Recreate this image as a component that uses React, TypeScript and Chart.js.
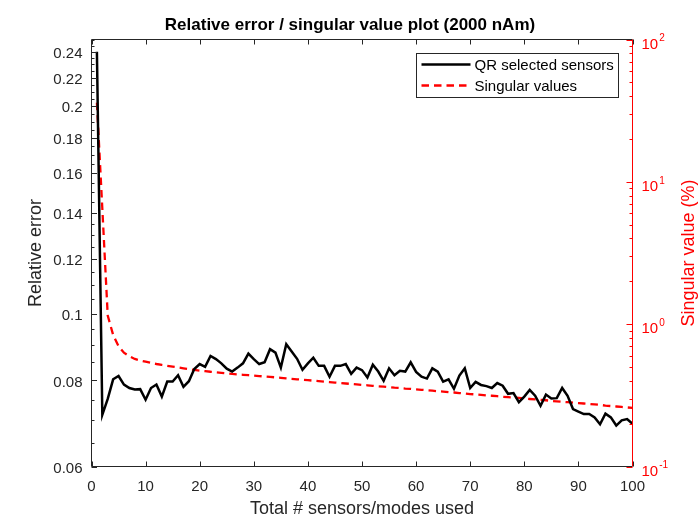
import { useEffect, useRef } from 'react';
import { Chart, registerables, Plugin } from 'chart.js';

Chart.register(...registerables);

// number of sensors / modes on the x axis
const sensorCounts = Array.from({ length: 100 }, (_, i) => i + 1);

// QR selected sensors, relative error (left log axis)
const relativeError = [
  0.24, 0.0713, 0.0752, 0.0803, 0.0812, 0.0789, 0.078, 0.0776, 0.0777, 0.075,
  0.078, 0.0789, 0.0758, 0.0797, 0.0797, 0.0814, 0.0783, 0.0798, 0.0831, 0.0845,
  0.0837, 0.0868, 0.0859, 0.0847, 0.0832, 0.0824, 0.0835, 0.0847, 0.0875, 0.0859,
  0.0845, 0.085, 0.0888, 0.0878, 0.0835, 0.0903, 0.0881, 0.086, 0.0829, 0.0847,
  0.0863, 0.084, 0.084, 0.081, 0.084, 0.084, 0.0845, 0.0818, 0.0835, 0.0828,
  0.0808, 0.0843, 0.0824, 0.0799, 0.0833, 0.0814, 0.0826, 0.0824, 0.085, 0.0823,
  0.081, 0.0805, 0.0833, 0.0824, 0.0797, 0.0803, 0.0778, 0.0813, 0.0833, 0.078,
  0.0796, 0.0788, 0.0785, 0.078, 0.0793, 0.0786, 0.0765, 0.0767, 0.0744, 0.0758,
  0.0775, 0.076, 0.0735, 0.0763, 0.0753, 0.0754, 0.078, 0.076, 0.0727, 0.0721,
  0.0715, 0.0715, 0.0707, 0.0691, 0.0716, 0.0707, 0.0688, 0.07, 0.0703, 0.0692,
];

// singular values in % (right log axis)
const singularValues = [
  36, 6.5, 1.15, 0.84, 0.7, 0.63, 0.595, 0.57, 0.555, 0.545,
  0.535, 0.525, 0.517, 0.51, 0.503, 0.497, 0.49, 0.483, 0.477, 0.472,
  0.468, 0.463, 0.459, 0.455, 0.451, 0.447, 0.444, 0.441, 0.438, 0.435,
  0.432, 0.429, 0.426, 0.423, 0.42, 0.416, 0.413, 0.41, 0.407, 0.404,
  0.401, 0.398, 0.395, 0.392, 0.389, 0.386, 0.383, 0.38, 0.377, 0.374,
  0.372, 0.369, 0.366, 0.364, 0.361, 0.358, 0.356, 0.353, 0.351, 0.348,
  0.346, 0.343, 0.341, 0.338, 0.336, 0.333, 0.331, 0.328, 0.326, 0.323,
  0.321, 0.319, 0.316, 0.314, 0.312, 0.309, 0.307, 0.305, 0.303, 0.3,
  0.298, 0.296, 0.294, 0.292, 0.289, 0.287, 0.285, 0.283, 0.281, 0.279,
  0.277, 0.275, 0.273, 0.271, 0.268, 0.266, 0.264, 0.262, 0.26, 0.258,
];

const xTicks = [0, 10, 20, 30, 40, 50, 60, 70, 80, 90, 100];
const errorTicks = [0.06, 0.08, 0.1, 0.12, 0.14, 0.16, 0.18, 0.2, 0.22, 0.24];
const singularExponents = [-1, 0, 1, 2];
const rightTitle = 'Singular value (%)';

const FONT = '"Liberation Sans", Arial, Helvetica, sans-serif';
const AXIS = '#262626';
const RED = '#ff0000';

// MATLAB-like box with inward ticks, superscript labels and boxed legend
const matlabAxes: Plugin<'line'> = {
  id: 'matlabAxes',
  afterDraw(chart) {
    const { ctx, chartArea: a, scales } = chart;
    const xs = scales.x;
    const yl = scales.y;
    const yr = scales.y1;
    ctx.save();
    ctx.lineWidth = 1;

    // black part of the box and its ticks
    ctx.strokeStyle = AXIS;
    ctx.beginPath();
    ctx.moveTo(a.right, a.top);
    ctx.lineTo(a.left, a.top);
    ctx.lineTo(a.left, a.bottom);
    ctx.lineTo(a.right, a.bottom);
    for (const v of xTicks) {
      const px = Math.round(xs.getPixelForValue(v)) + 0.5;
      ctx.moveTo(px, a.bottom);
      ctx.lineTo(px, a.bottom - 5);
      ctx.moveTo(px, a.top);
      ctx.lineTo(px, a.top + 5);
    }
    for (let i = 12; i <= 50; i++) {
      const py = Math.round(yl.getPixelForValue(i * 0.005)) + 0.5;
      const len = i % 4 === 0 ? 5.5 : 3;
      ctx.moveTo(a.left, py);
      ctx.lineTo(a.left + len, py);
    }
    ctx.stroke();

    // red right axis
    ctx.strokeStyle = RED;
    ctx.beginPath();
    ctx.moveTo(a.right, a.top);
    ctx.lineTo(a.right, a.bottom);
    for (let d = -1; d <= 2; d++) {
      for (let m = 1; m <= (d === 2 ? 1 : 9); m++) {
        const py = Math.round(yr.getPixelForValue(m * Math.pow(10, d))) + 0.5;
        const len = m === 1 ? 6 : 3;
        ctx.moveTo(a.right, py);
        ctx.lineTo(a.right - len, py);
      }
    }
    ctx.stroke();

    ctx.fillStyle = RED;
    ctx.textAlign = 'left';
    ctx.textBaseline = 'middle';
    for (const e of singularExponents) {
      const py = yr.getPixelForValue(Math.pow(10, e));
      ctx.font = `15px ${FONT}`;
      const w = ctx.measureText('10').width;
      ctx.fillText('10', a.right + 9, py + 5);
      ctx.font = `10px ${FONT}`;
      ctx.fillText(String(e), a.right + 9 + w + 1, py - 1);
    }

    // right axis title, reading upwards like MATLAB
    ctx.save();
    ctx.translate(689, (a.top + a.bottom) / 2);
    ctx.rotate(-Math.PI / 2);
    ctx.textAlign = 'center';
    ctx.font = `18px ${FONT}`;
    ctx.fillText(rightTitle, 0, 0);
    ctx.restore();

    // legend
    const lx = Math.round(a.right - 15) + 0.5 - 202;
    const ly = Math.round(a.top + 13) + 0.5;
    ctx.fillStyle = '#ffffff';
    ctx.fillRect(lx, ly, 202, 44);
    ctx.strokeStyle = AXIS;
    ctx.strokeRect(lx, ly, 202, 44);
    ctx.font = `15px ${FONT}`;
    chart.data.datasets.forEach((ds, i) => {
      const ry = ly + 11 + i * 21;
      ctx.strokeStyle = ds.borderColor as string;
      ctx.lineWidth = (ds.borderWidth as number) || 2;
      ctx.setLineDash((ds as any).borderDash || []);
      ctx.beginPath();
      ctx.moveTo(lx + 5, ry);
      ctx.lineTo(lx + 54, ry);
      ctx.stroke();
      ctx.setLineDash([]);
      ctx.fillStyle = '#000000';
      ctx.fillText(ds.label || '', lx + 58, ry + 1);
    });
    ctx.restore();
  },
};

export default function App() {
  const canvasRef = useRef<HTMLCanvasElement>(null);
  const chartRef = useRef<Chart<'line'> | null>(null);

  useEffect(() => {
    if (!canvasRef.current) return;
    if (chartRef.current) chartRef.current.destroy();

    chartRef.current = new Chart(canvasRef.current, {
      type: 'line',
      data: {
        datasets: [
          {
            label: 'QR selected sensors',
            data: sensorCounts.map((n, i) => ({ x: n, y: relativeError[i] })),
            borderColor: '#000000',
            borderWidth: 2.5,
            pointRadius: 0,
            tension: 0,
            yAxisID: 'y',
          },
          {
            label: 'Singular values',
            data: sensorCounts.map((n, i) => ({ x: n, y: singularValues[i] })),
            borderColor: RED,
            borderWidth: 2.3,
            borderDash: [7.5, 5],
            pointRadius: 0,
            tension: 0,
            yAxisID: 'y1',
          },
        ],
      },
      options: {
        animation: false,
        responsive: true,
        maintainAspectRatio: false,
        events: [],
        layout: { padding: 0 },
        scales: {
          x: {
            type: 'linear',
            min: 0,
            max: 100,
            afterBuildTicks: (s) => {
              s.ticks = xTicks.map((v) => ({ value: v }));
            },
            afterFit: (s) => {
              s.height = 58.5;
            },
            grid: { display: false, drawTicks: false },
            border: { display: false },
            ticks: {
              font: { family: FONT, size: 15 },
              color: AXIS,
              padding: 11.5,
              maxRotation: 0,
            },
            title: {
              display: true,
              text: 'Total # sensors/modes used',
              font: { family: FONT, size: 18 },
              color: AXIS,
              padding: { top: 0, bottom: 5 },
            },
          },
          y: {
            type: 'logarithmic',
            position: 'left',
            min: 0.06,
            max: 0.25,
            afterBuildTicks: (s) => {
              s.ticks = errorTicks.map((v) => ({ value: v }));
            },
            afterFit: (s) => {
              s.width = 91.5;
            },
            grid: { display: false, drawTicks: false },
            border: { display: false },
            ticks: {
              font: { family: FONT, size: 15 },
              color: AXIS,
              padding: 9,
              labelOffset: 2,
              callback: (v) => String(Number(Number(v).toFixed(3))),
            },
            title: {
              display: true,
              text: 'Relative error',
              font: { family: FONT, size: 18 },
              color: AXIS,
              padding: { top: 25.5, bottom: 0 },
            },
          },
          y1: {
            type: 'logarithmic',
            position: 'right',
            min: 0.1,
            max: 100,
            afterFit: (s) => {
              s.width = 67.5;
            },
            grid: { display: false, drawTicks: false },
            border: { display: false },
            ticks: { display: false },
          },
        },
        plugins: {
          legend: { display: false },
          tooltip: { enabled: false },
          title: {
            display: true,
            text: 'Relative error / singular value plot (2000 nAm)',
            font: { family: FONT, size: 17, weight: 'bold' },
            color: '#000000',
            padding: { top: 15.5, bottom: 3.6 },
          },
        },
      },
      plugins: [matlabAxes],
    });

    return () => {
      if (chartRef.current) {
        chartRef.current.destroy();
        chartRef.current = null;
      }
    };
  }, []);

  return (
    <div style={{ position: 'absolute', left: 0, top: 0, width: 700, height: 525, background: '#ffffff' }}>
      <canvas ref={canvasRef}></canvas>
    </div>
  );
}
